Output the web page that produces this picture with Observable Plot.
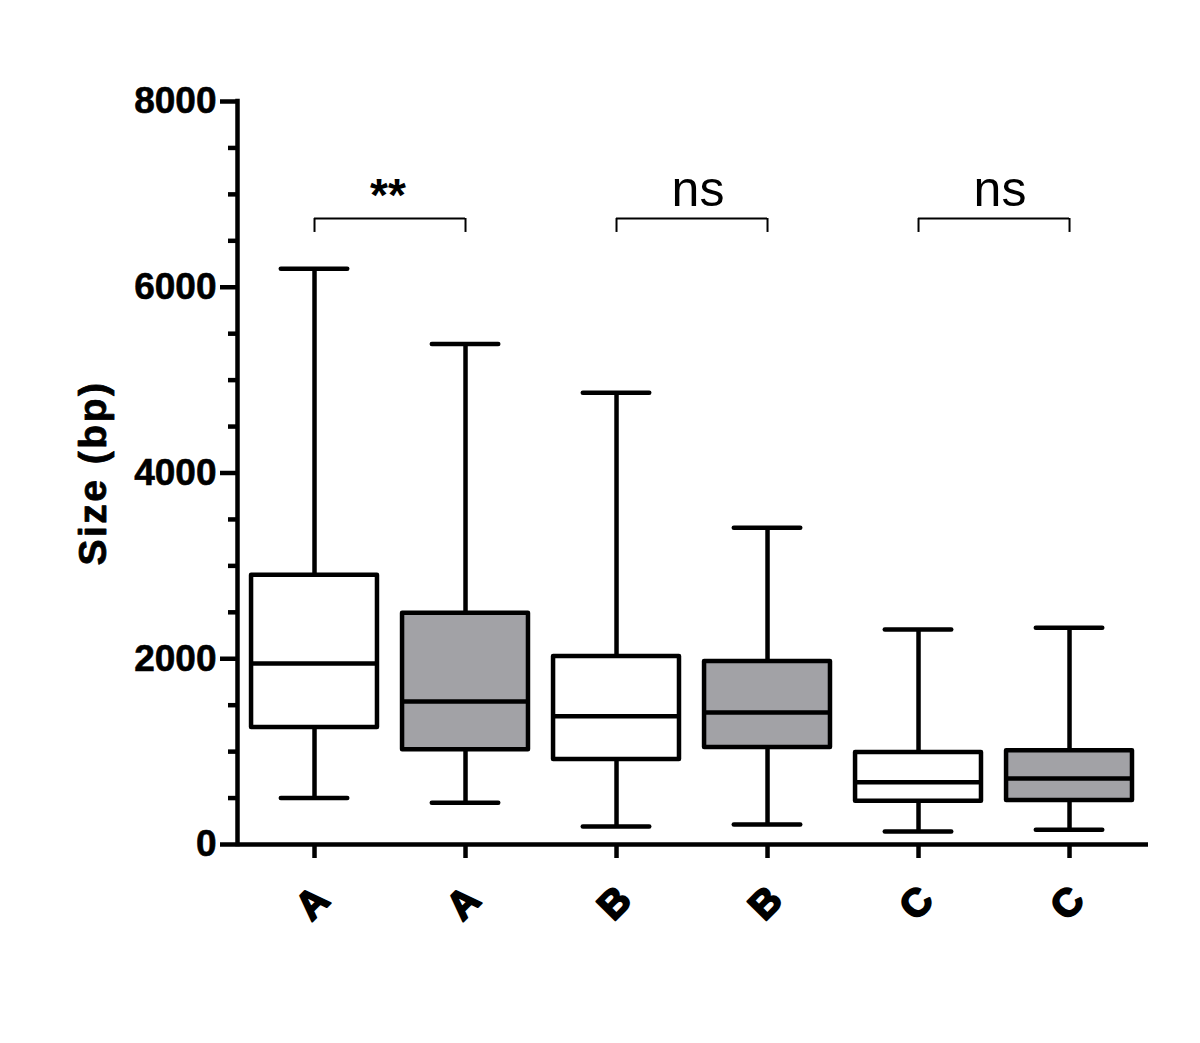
<!DOCTYPE html>
<html>
<head>
<meta charset="utf-8">
<script src="https://cdn.jsdelivr.net/npm/d3@7"></script>
<script src="https://cdn.jsdelivr.net/npm/@observablehq/plot@0.6"></script>
<style>
  html, body { margin: 0; padding: 0; background: #fff; }
  #chart svg { display: block; }
</style>
</head>
<body>
<div id="chart"></div>
<script>
// ---- data ----
const groups = ["A", "A", "B", "B", "C", "C"];
const condition = ["open", "filled", "open", "filled", "open", "filled"];
const whiskerLow = [500, 450, 195, 215, 140, 160];
const q1 = [1260, 1020, 915, 1045, 465, 475];
const median = [1950, 1540, 1380, 1420, 670, 710];
const q3 = [2900, 2490, 2025, 1970, 990, 1010];
const whiskerHigh = [6200, 5390, 4865, 3410, 2315, 2335];

const bracketFrom = [1, 3, 5];
const bracketTo = [2, 4, 6];
const bracketLabel = ["**", "ns", "ns"];
const bracketValue = 6740;
const bracketLeg = 6590;

const yMajor = [0, 2000, 4000, 6000, 8000];
const yMinor = [500, 1000, 1500, 2500, 3000, 3500, 4500, 5000, 5500, 6500, 7000, 7500];
const yTitle = "Size (bp)";

// ---- table ----
const boxes = groups.map((g, i) => ({
  pos: i + 1, group: g, cond: condition[i],
  lo: whiskerLow[i], q1: q1[i], med: median[i], q3: q3[i], hi: whiskerHigh[i]
}));
const brackets = bracketLabel.map((l, i) => ({
  x1: bracketFrom[i], x2: bracketTo[i], mid: (bracketFrom[i] + bracketTo[i]) / 2, label: l
}));

const halfBox = 0.417, halfCap = 0.22;
const sw = 4.5;
const font = "'Liberation Sans', Arial, Helvetica, sans-serif";

const chart = Plot.plot({
  width: 1200,
  height: 1043,
  marginTop: 101,
  marginBottom: 199,
  marginLeft: 237,
  marginRight: 52,
  style: { fontFamily: font, background: "#fff" },
  x: { domain: [0.49, 6.523], axis: null },
  y: { domain: [0, 8000], axis: null },
  color: { domain: ["open", "filled"], range: ["#ffffff", "#a2a2a6"] },
  marks: [
    // minor y ticks
    Plot.axisY({ ticks: yMinor, tickSize: 9, strokeWidth: sw, tickFormat: () => "", label: null }),
    // major y ticks + labels
    Plot.axisY({
      ticks: yMajor, tickSize: 17, tickPadding: 4, strokeWidth: sw,
      tickFormat: d => String(d), fontSize: 37, fontWeight: "bold", label: null,
      className: "ymajor"
    }),
    // x ticks
    Plot.axisX({ ticks: boxes.map(d => d.pos), tickSize: 14, strokeWidth: sw, tickFormat: () => "", label: null }),
    // axis lines
    Plot.ruleX([0.49], { y1: 0, y2: 8000, strokeWidth: sw, strokeLinecap: "square" }),
    Plot.ruleY([0], { x1: 0.49, x2: 6.523, strokeWidth: sw }),
    // whiskers
    Plot.ruleX(boxes, { x: "pos", y1: "lo", y2: "hi", strokeWidth: sw }),
    Plot.ruleY(boxes, { y: "lo", x1: d => d.pos - halfCap, x2: d => d.pos + halfCap, strokeWidth: sw, strokeLinecap: "round" }),
    Plot.ruleY(boxes, { y: "hi", x1: d => d.pos - halfCap, x2: d => d.pos + halfCap, strokeWidth: sw, strokeLinecap: "round" }),
    // boxes
    Plot.rect(boxes, {
      x1: d => d.pos - halfBox, x2: d => d.pos + halfBox, y1: "q1", y2: "q3",
      fill: "cond", stroke: "black", strokeWidth: sw, strokeLinejoin: "round"
    }),
    // medians
    Plot.ruleY(boxes, { y: "med", x1: d => d.pos - halfBox, x2: d => d.pos + halfBox, strokeWidth: sw }),
    // brackets
    Plot.ruleY(brackets, { y: bracketValue, x1: "x1", x2: "x2", strokeWidth: 2 }),
    Plot.ruleX(brackets, { x: "x1", y1: bracketLeg, y2: bracketValue, strokeWidth: 2 }),
    Plot.ruleX(brackets, { x: "x2", y1: bracketLeg, y2: bracketValue, strokeWidth: 2 }),
    Plot.text(brackets.filter(d => d.label === "ns"), {
      x: "mid", y: bracketValue, text: "label", dy: -29, dx: 6,
      fontSize: 50, lineAnchor: "middle", fill: "black"
    }),
    Plot.text(brackets.filter(d => d.label !== "ns"), {
      x: "mid", y: bracketValue, text: "label", dy: -22, dx: -2,
      fontSize: 46, fontWeight: "bold", lineAnchor: "middle", fill: "black"
    }),
    // x category labels
    Plot.text(boxes, {
      x: "pos", text: "group", frameAnchor: "bottom", dy: 59, dx: -2, rotate: -45,
      textAnchor: "middle", lineAnchor: "middle", fontSize: 39, fontWeight: 900,
      stroke: "black", strokeWidth: 2, fill: "black"
    }),
    // y label
    Plot.text([yTitle], {
      frameAnchor: "left", dx: -144, rotate: -90, text: d => d,
      fontSize: 39, fontWeight: "bold", textAnchor: "middle", lineAnchor: "middle",
      fill: "black", stroke: "black", strokeWidth: 0.8, className: "ytitle"
    })
  ]
});
d3.select(chart).selectAll(".ytitle text").style("letter-spacing", "2.5px");
d3.select(chart).selectAll(".ymajor text").attr("stroke", "black").attr("stroke-width", 0.6);
document.getElementById("chart").appendChild(chart);
</script>
</body>
</html>
